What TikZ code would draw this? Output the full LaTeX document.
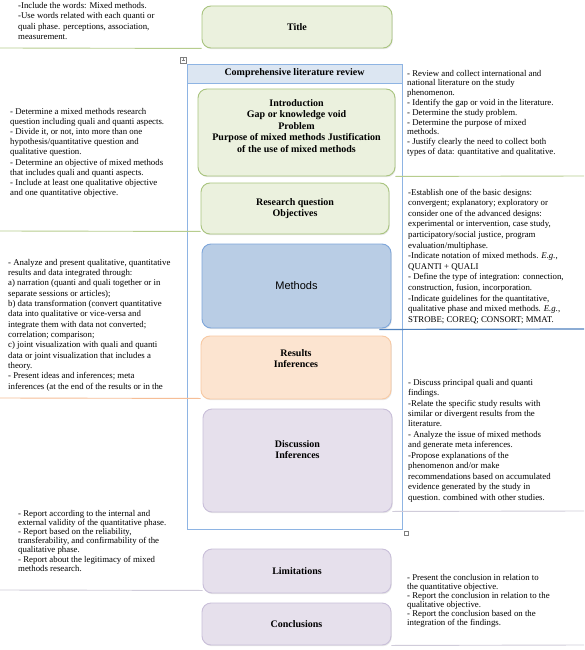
\documentclass[tikz,border=0pt]{standalone}
\usepackage{fontspec}
\setmainfont{Liberation Serif}
\newfontfamily\arialfont{Liberation Sans}
\usetikzlibrary{shadows}

\definecolor{greenfill}{HTML}{EBF1DE}
\definecolor{greenline}{HTML}{A9C47F}
\definecolor{bluefill}{HTML}{B9CDE5}
\definecolor{blueline}{HTML}{7EA6DA}
\definecolor{framefill}{HTML}{DCE6F2}
\definecolor{frameline}{HTML}{8EB4E3}
\definecolor{orangefill}{HTML}{FCE4D0}
\definecolor{orangeline}{HTML}{F7C9A3}
\definecolor{lilacfill}{HTML}{E6E0EC}
\definecolor{lilacline}{HTML}{C9BFD9}
\definecolor{rulegreen}{HTML}{B7CD8E}
\definecolor{ruleblue}{HTML}{4F81BD}
\definecolor{ruleorange}{HTML}{F6BE97}
\definecolor{rulelilac}{HTML}{D0CCDA}

\tikzset{
	stagebox/.style={draw, rounded corners=9pt, line width=0.9pt, inner sep=0pt, align=center,
		font=\fontsize{10}{11.5}\selectfont\bfseries,
		drop shadow={opacity=0.18, shadow xshift=0.8pt, shadow yshift=-1.2pt}},
	greenbox/.style={stagebox, draw=greenline, fill=greenfill},
	bluebox/.style={stagebox, draw=blueline, fill=bluefill},
	orangebox/.style={stagebox, draw=orangeline, fill=orangefill},
	lilacbox/.style={stagebox, draw=lilacline, fill=lilacfill},
	notes/.style={anchor=north west, inner sep=0pt, align=left, font=\fontsize{8.8}{#1}\selectfont},
	notes/.default=10.2,
	rule/.style={line width=0.9pt},
}

\begin{document}
\begin{tikzpicture}[x=1pt, y=-1pt]
			%%%%% START %%%%%
			
			\useasboundingbox[fill=white] (0,0) rectangle (584,650);
			
			% literature review frame
			\node[draw=frameline, line width=0.9pt, minimum width=215pt, minimum height=465pt] (frame) at (294.5,296.5) {};
			\node[draw=frameline, fill=framefill, line width=0.9pt, minimum width=215pt, minimum height=19pt, inner sep=0pt,
				font=\fontsize{10}{12}\selectfont\bfseries] (review) at (294.5,73.5) {Comprehensive literature review};
			\draw[gray, line width=0.4pt, fill=white] (180,57) rectangle (186,63);
			\draw[gray, line width=0.4pt] (181.5,60) -- (184.5,60) (183,58.5) -- (183,61.5);
			\draw[gray, line width=0.4pt, fill=white] (404,531) rectangle (408,535);
			
			% stages
			\node[greenbox, minimum width=190pt, minimum height=42pt] (title) at (297,27) {Title};
			\node[greenbox, minimum width=197pt, minimum height=87pt, text depth=13.5pt] (intro) at (296.5,132.5)
				{Introduction\\Gap or knowledge void\\Problem\\Purpose of mixed methods Justification\\of the use of mixed methods};
			\node[greenbox, minimum width=188pt, minimum height=51pt] (research) at (295,208.5) {Research question\\Objectives};
			\node[bluebox, minimum width=189pt, minimum height=84pt, font=\arialfont\fontsize{11}{13}\selectfont] (methods) at (296.5,286) {Methods};
			\node[orangebox, minimum width=190pt, minimum height=63pt, text depth=17.5pt] (results) at (296,367.5) {Results\\Inferences};
			\node[lilacbox, minimum width=189pt, minimum height=103pt, text depth=21.5pt] (discussion) at (297.5,460.5) {Discussion\\Inferences};
			\node[lilacbox, minimum width=188pt, minimum height=44pt] (limitations) at (297,571) {Limitations};
			\node[lilacbox, minimum width=189pt, minimum height=42pt] (conclusions) at (296.5,624) {Conclusions};
			
			% notes beside the stages
			\node[notes=10.6] (note-title) at (18,1.8) {-Include the words: Mixed methods.\\
				-Use words related with each quanti or\\
				quali phase. perceptions, association,\\
				measurement.};
			\node[notes=9.8] (note-intro) at (407,69.8) {- Review and collect international and\\
				national literature on the study\\
				phenomenon.\\
				- Identify the gap or void in the literature.\\
				- Determine the study problem.\\
				- Determine the purpose of mixed\\
				methods.\\
				- Justify clearly the need to collect both\\
				types of data: quantitative and qualitative.};
			\node[notes=10.2] (note-research) at (10,107.8) {- Determine a mixed methods research\\
				question including quali and quanti aspects.\\
				- Divide it, or not, into more than one\\
				hypothesis/quantitative question and\\
				qualitative question.\\
				- Determine an objective of mixed methods\\
				that includes quali and quanti aspects.\\
				- Include at least one qualitative objective\\
				and one quantitative objective.};
			\node[notes=10.6] (note-methods) at (408,188.8) {-Establish one of the basic designs:\\
				convergent; explanatory; exploratory or\\
				consider one of the advanced designs:\\
				experimental or intervention, case study,\\
				participatory/social justice, program\\
				evaluation/multiphase.\\
				-Indicate notation of mixed methods. \textit{E.g.},\\
				QUANTI + QUALI\\
				- Define the type of integration: connection,\\
				construction, fusion, incorporation.\\
				-Indicate guidelines for the quantitative,\\
				qualitative phase and mixed methods. \textit{E.g.},\\
				STROBE; COREQ; CONSORT; MMAT.};
			\node[notes=10.33] (note-results) at (8,258.8) {- Analyze and present qualitative, quantitative\\
				results and data integrated through:\\
				a) narration (quanti and quali together or in\\
				separate sessions or articles);\\
				b) data transformation (convert quantitative\\
				data into qualitative or vice-versa and\\
				integrate them with data not converted;\\
				correlation; comparison;\\
				c) joint visualization with quali and quanti\\
				data or joint visualization that includes a\\
				theory.\\
				- Present ideas and inferences; meta\\
				inferences (at the end of the results or in the};
			\node[notes=10.45] (note-discussion) at (408,378.8) {- Discuss principal quali and quanti\\
				findings.\\
				-Relate the specific study results with\\
				similar or divergent results from the\\
				literature.\\
				- Analyze the issue of mixed methods\\
				and generate meta inferences.\\
				-Propose explanations of the\\
				phenomenon and/or make\\
				recommendations based on accumulated\\
				evidence generated by the study in\\
				question. combined with other studies.};
			\node[notes=9.2] (note-limitations) at (18,509.8) {- Report according to the internal and\\
				external validity of the quantitative phase.\\
				- Report based on the reliability,\\
				transferability, and confirmability of the\\
				qualitative phase.\\
				- Report about the legitimacy of mixed\\
				methods research.};
			\node[notes=9] (note-conclusions) at (407,573.8) {- Present the conclusion in relation to\\
				the quantitative objective.\\
				- Report the conclusion in relation to the\\
				qualitative objective.\\
				- Report the conclusion based on the\\
				integration of the findings.};
			
			% rules out to the page edges
			\coordinate (title-rule) at (0,48);
			\coordinate (intro-rule) at (584,176);
			\coordinate (research-rule) at (0,231);
			\coordinate (methods-rule) at (584,329);
			\coordinate (results-rule) at (0,398);
			\coordinate (discussion-rule) at (584,511);
			\coordinate (limitations-rule) at (0,590);
			\coordinate (conclusions-rule) at (584,645);
			
			\draw[rule, rulegreen] (title.south west) -- (title-rule);
			\draw[rule, rulegreen] (intro.south east) -- (intro-rule);
			\draw[rule, rulegreen] ([yshift=3pt]research.south west) -- (research-rule);
			\draw[rule, ruleblue, line width=1.2pt] ([xshift=-12pt,yshift=-1pt]methods.south east) -- (methods-rule);
			\draw[rule, ruleorange] ([yshift=1pt]results.south west) -- (results-rule);
			\draw[rule, rulelilac] ([yshift=1pt]discussion.south east) -- (discussion-rule);
			\draw[rule, rulelilac] ([yshift=3pt]limitations.south west) -- (limitations-rule);
			\draw[rule, rulelilac] (conclusions.south east) -- (conclusions-rule);
			
			%%%%% END %%%%%
\end{tikzpicture}
\end{document}
